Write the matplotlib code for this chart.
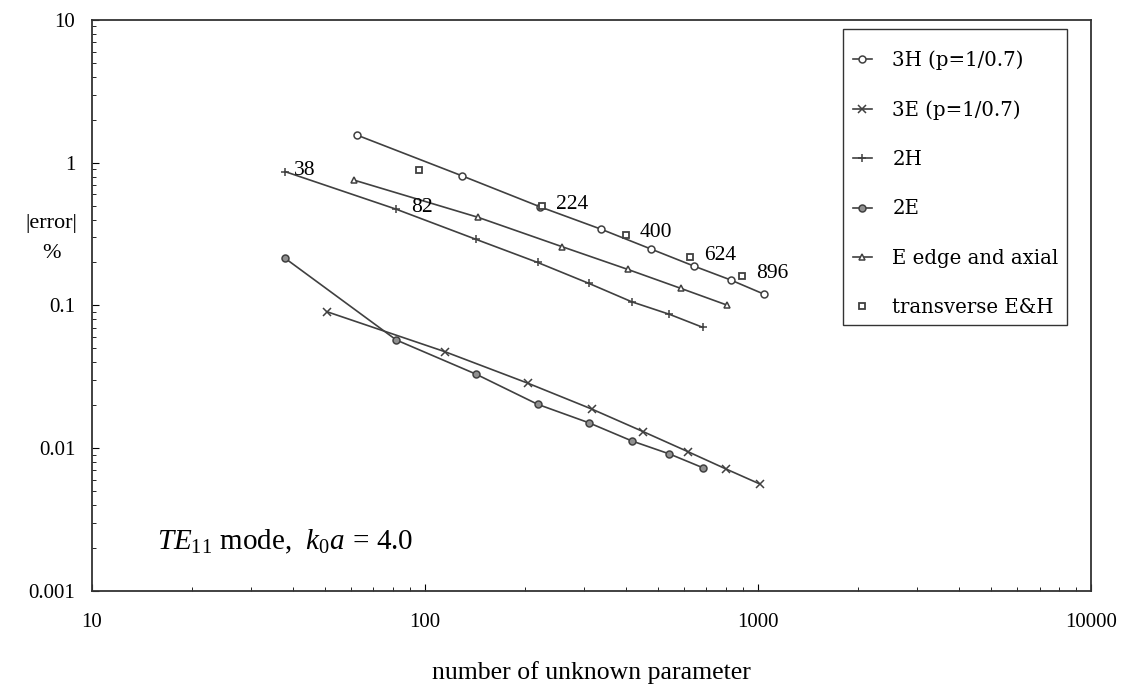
import matplotlib
matplotlib.use('Agg')
from matplotlib import pyplot as plt
from matplotlib.patches import Rectangle

plt.rcParams['font.family'] = ['Liberation Serif', 'DejaVu Serif']
plt.rcParams['mathtext.fontset'] = 'custom'
plt.rcParams['mathtext.rm'] = 'Liberation Serif'
plt.rcParams['mathtext.it'] = 'Liberation Serif:italic'

# values
x_3h = [62.5, 129, 222, 338, 478, 641, 827, 1042]
y_3h = [1.56, 0.81, 0.49, 0.342, 0.248, 0.189, 0.151, 0.12]

x_3e = [50.7, 114.6, 204, 317, 451, 616, 801, 1012]
y_3e = [0.0905, 0.0475, 0.0285, 0.0188, 0.0131, 0.00946, 0.00716, 0.00562]

x_2h = [38, 82, 142, 218, 310, 418, 542, 682]
y_2h = [0.866, 0.472, 0.291, 0.20, 0.143, 0.106, 0.0867, 0.0703]

x_2e = [38, 82, 142, 218, 310, 418, 542, 682]
y_2e = [0.214, 0.0573, 0.0331, 0.0203, 0.0151, 0.01125, 0.00912, 0.00731]

x_edge = [61, 144, 258, 406, 585, 805]
y_edge = [0.757, 0.415, 0.258, 0.179, 0.132, 0.1008]

x_tr = [96, 224, 400, 624, 896]
y_tr = [0.89, 0.495, 0.312, 0.218, 0.161]

labels = ['3H (p=1/0.7)', '3E (p=1/0.7)', '2H', '2E', 'E edge and axial', 'transverse E&H']

lc = '#404040'
fig = plt.figure(figsize=(11.26, 6.87), dpi=100)
ax = fig.add_axes([0.0817, 0.1397, 0.8873, 0.8313])

ax.plot(x_3h, y_3h, '-o', color=lc, lw=1.2, ms=5, mfc='white', mec=lc, mew=1.1, label=labels[0])
ax.plot(x_3e, y_3e, '-x', color=lc, lw=1.2, ms=6, mec=lc, mew=1.1, label=labels[1])
ax.plot(x_2h, y_2h, '-+', color=lc, lw=1.2, ms=6, mec=lc, mew=1.1, label=labels[2])
ax.plot(x_2e, y_2e, '-o', color=lc, lw=1.2, ms=5, mfc='#909090', mec=lc, mew=1.1, label=labels[3])
ax.plot(x_edge, y_edge, '-^', color=lc, lw=1.2, ms=5, mfc='white', mec=lc, mew=1.1, label=labels[4])
ax.plot(x_tr, y_tr, 's', ls='none', ms=5, mfc='white', mec=lc, mew=1.3, label=labels[5])

# point labels (number of unknowns)
ax.annotate('38', (x_2h[0], y_2h[0]), xytext=(6, 1), textcoords='offset points',
            va='center', ha='left', fontsize=15.5)
ax.annotate('82', (x_2h[1], y_2h[1]), xytext=(11, 1.5), textcoords='offset points',
            va='center', ha='left', fontsize=15.5)
for i in range(1, 5):
    ax.annotate(str(x_tr[i]), (x_tr[i], y_tr[i]), xytext=(10, 1.5), textcoords='offset points',
                va='center', ha='left', fontsize=15.5)

ax.set_xscale('log')
ax.set_yscale('log')
ax.set_xlim(10, 10000)
ax.set_ylim(0.001, 10)
ax.set_xticks([10, 100, 1000, 10000])
ax.set_xticklabels(['10', '100', '1000', '10000'])
ax.set_yticks([0.001, 0.01, 0.1, 1, 10])
ax.set_yticklabels(['0.001', '0.01', '0.1', '1', '10'])
ax.tick_params(which='both', direction='in', top=False, right=False, labelsize=15)
ax.tick_params(axis='x', which='major', pad=16, length=5)
ax.tick_params(axis='y', which='major', pad=12, length=5)
ax.tick_params(which='minor', length=3)
for s in ax.spines.values():
    s.set_linewidth(1.3)
    s.set_color('#333333')

ax.set_xlabel('number of unknown parameter', fontsize=18.5, labelpad=21)
fig.text(0.046, 0.653, '|error|\n%', ha='center', va='center', fontsize=16, linespacing=1.75)

ax.text(0.065, 0.086, r'$TE_{11}$ mode,  $k_0a\,=\,4.0$', transform=ax.transAxes,
        fontsize=21, ha='left', va='center')

# legend entries without frame, box drawn separately
W, H = 1126, 687
leg = ax.legend(loc='upper left', bbox_to_anchor=(853 / W, 1 - 50 / H),
                bbox_transform=fig.transFigure, borderaxespad=0, frameon=False,
                handlelength=0.95, handletextpad=1.05, labelspacing=1.54, borderpad=0,
                prop={'family': 'DejaVu Serif', 'size': 14.2})
fig.patches.append(Rectangle((843 / W, 1 - 325 / H), 224 / W, 296 / H, transform=fig.transFigure,
                             fill=False, edgecolor='#333333', lw=1.0, zorder=5))

fig.savefig('out.png', dpi=100)
